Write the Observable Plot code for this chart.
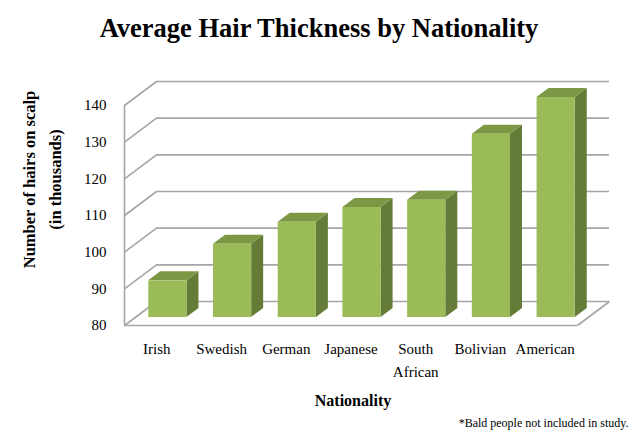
<!DOCTYPE html>
<html><head><meta charset="utf-8">
<script src="https://cdn.jsdelivr.net/npm/d3@7"></script>
<script src="https://cdn.jsdelivr.net/npm/@observablehq/plot@0.6"></script>
<style>html,body{margin:0;padding:0;background:#fff} svg{display:block}</style>
</head><body><div id="chart"></div>
<script>
const categories = ["Irish", "Swedish", "German", "Japanese", "South\nAfrican", "Bolivian", "American"];
const values = [90, 100, 106, 110, 112, 130, 140];
const yTicks = [80, 90, 100, 110, 120, 130, 140];
const title = "Average Hair Thickness by Nationality";
const yLabelLines = ["Number of hairs on scalp", "(in thousands)"];
const xLabel = "Nationality";
const footnote = "*Bald people not included in study.";

const W = 640, H = 433, mL = 135, mR = 52, mT = 97, mB = 116;
const yMin = 80, yMax = 140, n = categories.length;
const kx = (W - mL - mR) / n, ky = (H - mT - mB) / (yMax - yMin);
// pixel offsets for the 3D look
const floorDX = 32, floorDY = -24;   // front plane -> back wall
const frontDX = -11, frontDY = 8;    // bar plane -> front plane
const barDX = 12, barDY = -9;        // bar depth
const half = 0.295;
const FRONT = "#9BBB59", TOPC = "#7C9845", SIDE = "#647C37", GRID = "#a6a6a6";
const font = "'Liberation Serif', 'Times New Roman', serif";

const bars = categories.map((c, i) => ({c, i, v: values[i], x0: i + 0.5 - half, x1: i + 0.5 + half}));
const sideFaces = bars.flatMap(b => [
  {i: b.i, x: b.x1, y1: yMin, y2: b.v},
  {i: b.i, x: b.x1 + barDX / kx, y1: yMin - barDY / ky, y2: b.v - barDY / ky}
]);
const topFaces = bars.flatMap(b => [
  {i: b.i, y: b.v, x1: b.x0, x2: b.x1},
  {i: b.i, y: b.v - barDY / ky, x1: b.x0 + barDX / kx, x2: b.x1 + barDX / kx}
]);

const chart = Plot.plot({
  width: W, height: H,
  marginLeft: mL, marginRight: mR, marginTop: mT, marginBottom: mB,
  style: {fontFamily: font, fontSize: "15px", color: "#000", background: "#fff"},
  x: {type: "linear", domain: [0, n], axis: null},
  y: {type: "linear", domain: [yMin, yMax], axis: null},
  marks: [
    Plot.ruleY(yTicks, {y: d => d, x1: 0, x2: n, dx: frontDX + floorDX, dy: frontDY + floorDY, stroke: GRID, strokeWidth: 1.6}),
    Plot.link(yTicks, {x1: 0, y1: d => d, x2: floorDX / kx, y2: d => d - floorDY / ky, dx: frontDX, dy: frontDY, stroke: GRID, strokeWidth: 1.6}),
    Plot.ruleY([yMin], {y: d => d, x1: 0, x2: n, dx: frontDX, dy: frontDY, stroke: GRID, strokeWidth: 1.6}),
    Plot.link([yMin], {x1: n, y1: d => d, x2: n + floorDX / kx, y2: d => d - floorDY / ky, dx: frontDX, dy: frontDY, stroke: GRID, strokeWidth: 1.6}),
    Plot.ruleX([0], {x: d => d, y1: yMin, y2: yMax, dx: frontDX, dy: frontDY, stroke: GRID, strokeWidth: 1.6}),
    Plot.areaY(sideFaces, {x: "x", y1: "y1", y2: "y2", z: "i", fill: SIDE}),
    Plot.areaX(topFaces, {y: "y", x1: "x1", x2: "x2", z: "i", fill: TOPC}),
    Plot.rect(bars, {x1: "x0", x2: "x1", y1: yMin, y2: "v", fill: FRONT}),
    Plot.text(yTicks, {x: 0, y: d => d, text: d => String(d), dx: frontDX - 18, dy: frontDY, textAnchor: "end", fontSize: 15}),
    Plot.text(bars, {x: b => b.i + 0.5, y: yMin, text: "c", dx: frontDX, dy: 20, lineAnchor: "top", lineHeight: 1.55, fontSize: 15}),
    Plot.text([title], {frameAnchor: "top", text: d => d, dx: -43, dy: -69, lineAnchor: "middle", fontSize: 26.5, fontWeight: "bold"}),
    Plot.text([yLabelLines[0]], {frameAnchor: "left", text: d => d, textAnchor: "middle", dx: -106, dy: -28, rotate: -90, lineAnchor: "middle", fontSize: 16.5, fontWeight: "bold"}),
    Plot.text([yLabelLines[1]], {frameAnchor: "left", text: d => d, textAnchor: "middle", dx: -80, dy: -28, rotate: -90, lineAnchor: "middle", fontSize: 16.5, fontWeight: "bold"}),
    Plot.text([xLabel], {frameAnchor: "bottom", text: d => d, dx: -9, dy: 83, lineAnchor: "middle", fontSize: 16, fontWeight: "bold"}),
    Plot.text([footnote], {frameAnchor: "bottom-right", text: d => d, dx: 40, dy: 106, textAnchor: "end", lineAnchor: "middle", fontSize: 12})
  ]
});
document.getElementById("chart").append(chart);
</script>
</body></html>
